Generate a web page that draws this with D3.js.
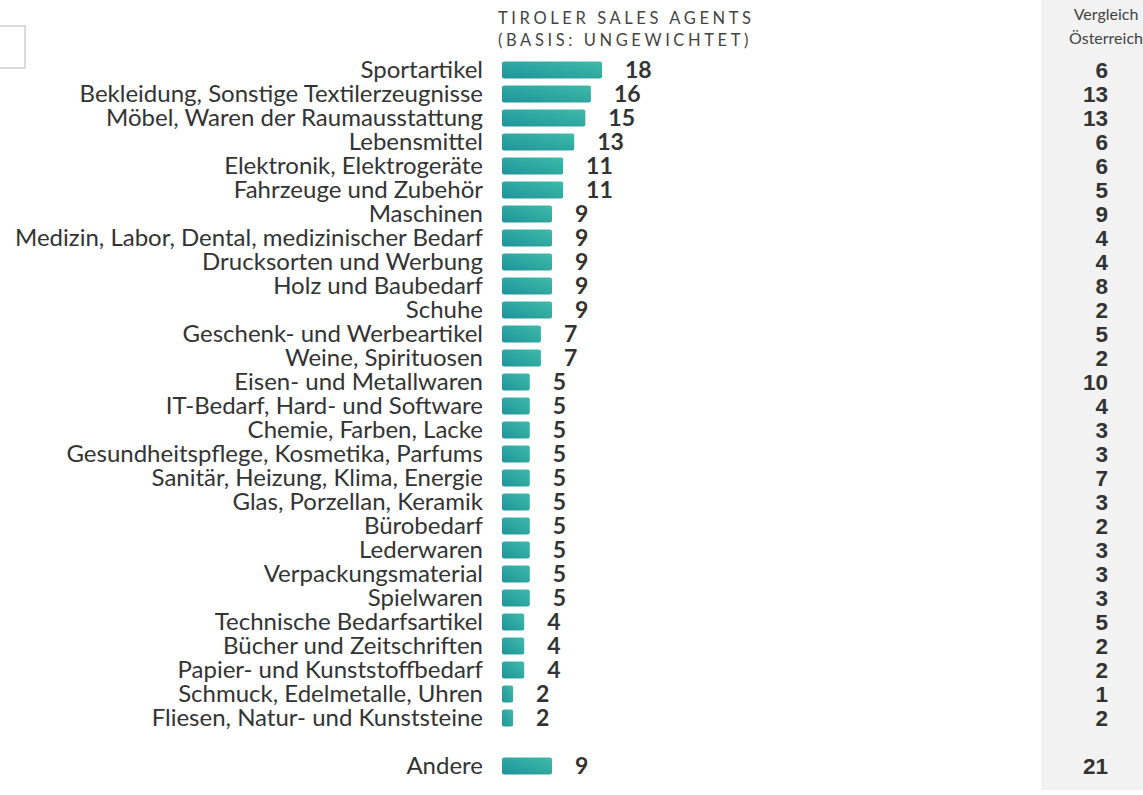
<!DOCTYPE html>
<html>
<head>
<meta charset="utf-8">
<script src="https://cdn.jsdelivr.net/npm/d3@7"></script>
<style>
  body { margin: 0; background: #fff; }
  svg { display: block; }
</style>
</head>
<body>
<svg id="chart"></svg>
<script>
// data
const categories = [
  'Sportartikel', 'Bekleidung, Sonstige Textilerzeugnisse', 'Möbel, Waren der Raumausstattung',
  'Lebensmittel', 'Elektronik, Elektrogeräte', 'Fahrzeuge und Zubehör', 'Maschinen',
  'Medizin, Labor, Dental, medizinischer Bedarf', 'Drucksorten und Werbung', 'Holz und Baubedarf',
  'Schuhe', 'Geschenk- und Werbeartikel', 'Weine, Spirituosen', 'Eisen- und Metallwaren',
  'IT-Bedarf, Hard- und Software', 'Chemie, Farben, Lacke', 'Gesundheitspflege, Kosmetika, Parfums',
  'Sanitär, Heizung, Klima, Energie', 'Glas, Porzellan, Keramik', 'Bürobedarf', 'Lederwaren',
  'Verpackungsmaterial', 'Spielwaren', 'Technische Bedarfsartikel', 'Bücher und Zeitschriften',
  'Papier- und Kunststoffbedarf', 'Schmuck, Edelmetalle, Uhren', 'Fliesen, Natur- und Kunststeine',
  'Andere'
];
const tirolValues = [18, 16, 15, 13, 11, 11, 9, 9, 9, 9, 9, 7, 7, 5, 5, 5, 5, 5, 5, 5, 5, 5, 5, 4, 4, 4, 2, 2, 9];
const austriaValues = [6, 13, 13, 6, 6, 5, 9, 4, 4, 8, 2, 5, 2, 10, 4, 3, 3, 7, 3, 2, 3, 3, 3, 5, 2, 2, 1, 2, 21];
const titleLines = ['TIROLER SALES AGENTS', '(BASIS: UNGEWICHTET)'];
const compareLines = ['Vergleich', 'Österreich'];

const width = 1143;
const height = 795;

const data = categories.map((name, i) => ({
  name,
  value: tirolValues[i],
  compare: austriaValues[i],
  // "Andere" sits one empty row below the list
  slot: name === 'Andere' ? i + 1 : i
}));

const svg = d3.select('#chart')
  .attr('width', width)
  .attr('height', height);

// gradient for the bars
const grad = svg.append('defs').append('linearGradient')
  .attr('id', 'barGrad')
  .attr('x1', 0).attr('y1', 1)
  .attr('x2', 1).attr('y2', 0);
grad.append('stop').attr('offset', '0%').attr('stop-color', '#1f939a');
grad.append('stop').attr('offset', '100%').attr('stop-color', '#3ebba9');

// comparison panel
svg.append('rect')
  .attr('x', 1041).attr('y', 0)
  .attr('width', width - 1041).attr('height', 790)
  .attr('fill', '#f2f2f2');

// little empty box at the top left
svg.append('rect')
  .attr('x', -2).attr('y', 26)
  .attr('width', 27).attr('height', 42)
  .attr('fill', '#fff')
  .attr('stroke', '#cfcfcf')
  .attr('stroke-width', 1.5);

// scales
const xScale = d3.scaleLinear()
  .domain([0, 18])
  .range([502, 602]);

const yScale = d3.scaleBand()
  .domain(d3.range(30))
  .range([58, 778])
  .paddingInner(0.3)
  .paddingOuter(0.15);

const rowCenter = d => yScale(d.slot) + yScale.bandwidth() / 2;

// title
svg.append('text')
  .attr('font-family', 'Lato, sans-serif')
  .attr('font-size', 16.5)
  .attr('letter-spacing', 3.6)
  .attr('fill', '#444')
  .selectAll('tspan')
  .data(titleLines)
  .join('tspan')
  .attr('x', 498)
  .attr('y', (d, i) => 24 + i * 22)
  .text(d => d);

// comparison header
svg.append('text')
  .attr('text-anchor', 'middle')
  .attr('font-family', 'Lato, sans-serif')
  .attr('font-size', 16)
  .attr('fill', '#444')
  .selectAll('tspan')
  .data(compareLines)
  .join('tspan')
  .attr('x', 1106)
  .attr('y', (d, i) => 20 + i * 24)
  .text(d => d);

// category labels
svg.append('g')
  .selectAll('text')
  .data(data)
  .join('text')
  .attr('x', 483)
  .attr('y', d => rowCenter(d) + 8)
  .attr('text-anchor', 'end')
  .attr('font-family', 'Lato, sans-serif')
  .attr('font-size', 24)
  .attr('fill', '#333')
  .text(d => d.name);

// bars
svg.append('g')
  .selectAll('rect')
  .data(data)
  .join('rect')
  .attr('x', xScale(0))
  .attr('y', d => yScale(d.slot))
  .attr('width', d => xScale(d.value) - xScale(0))
  .attr('height', yScale.bandwidth())
  .attr('rx', 2)
  .attr('fill', 'url(#barGrad)');

// value labels
svg.append('g')
  .selectAll('text')
  .data(data)
  .join('text')
  .attr('x', d => xScale(d.value) + 23)
  .attr('y', d => rowCenter(d) + 8)
  .attr('font-family', 'Lato, sans-serif')
  .attr('font-weight', 'bold')
  .attr('font-size', 23)
  .attr('fill', '#333')
  .text(d => d.value);

// comparison values
svg.append('g')
  .selectAll('text')
  .data(data)
  .join('text')
  .attr('x', 1108)
  .attr('y', d => rowCenter(d) + 8)
  .attr('text-anchor', 'end')
  .attr('font-family', '"Liberation Sans", Arial, sans-serif')
  .attr('font-weight', 'bold')
  .attr('font-size', 22.5)
  .attr('fill', '#333')
  .text(d => d.compare);
</script>
</body>
</html>
